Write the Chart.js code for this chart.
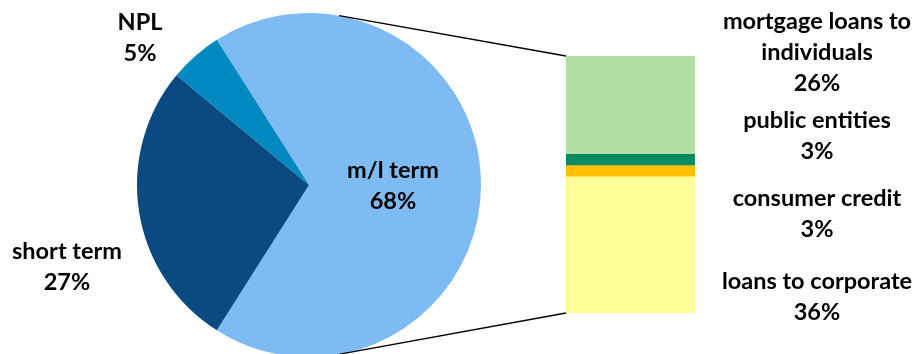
<!DOCTYPE html>
<html>
<head>
<meta charset="utf-8">
<script src="https://cdn.jsdelivr.net/npm/chart.js@4.4.0/dist/chart.umd.min.js"></script>
<style>
html, body { margin: 0; padding: 0; background: #fff; }
#wrap { position: relative; width: 916px; height: 354px; overflow: hidden; }
#wrap canvas { position: absolute; left: 0; top: 0; }
</style>
</head>
<body>
<div id="wrap">
  <canvas id="pieChart" width="916" height="357"></canvas>
  <canvas id="barChart" width="916" height="357"></canvas>
</div>
<script>
// Pie: loan breakdown by term
const pieLabels = ['m/l term', 'short term', 'NPL'];
const pieValues = [68, 27, 5];
const pieColors = ['#7DBBF2', '#0B4A80', '#0088C0'];

// Bar: split of the m/l term slice (bottom to top)
const barLabels = ['loans to corporate', 'consumer credit', 'public entities', 'mortgage loans to\nindividuals'];
const barValues = [36, 3, 3, 26];
const barColors = ['#FFFF99', '#FFC000', '#0A8A64', '#B3DFA3'];

// label anchor points (centre of first text line)
const pieLabelPos = [[393, 170], [67, 251], [140, 22]];
const barLabelPos = [[817, 281], [817, 198], [817, 120], [817, 21]];

const FONT = 'bold 23.5px Lato, "Open Sans", sans-serif';
const LINE = 31;

function drawLabel(ctx, text, value, x, y) {
    const lines = text.split('\n').concat([value + '%']);
    ctx.save();
    ctx.font = FONT;
    ctx.fillStyle = '#000';
    ctx.textAlign = 'center';
    ctx.textBaseline = 'middle';
    lines.forEach((l, i) => ctx.fillText(l, x, y + i * LINE));
    ctx.restore();
}

const pieLabelPlugin = {
    id: 'pieLabelPlugin',
    afterDraw(chart) {
        pieLabels.forEach((lbl, i) => {
            drawLabel(chart.ctx, lbl, pieValues[i], pieLabelPos[i][0], pieLabelPos[i][1]);
        });
    }
};

const pieChart = new Chart(document.getElementById('pieChart').getContext('2d'), {
    type: 'pie',
    data: {
        labels: pieLabels,
        datasets: [{
            data: pieValues,
            backgroundColor: pieColors,
            borderWidth: 0
        }]
    },
    options: {
        responsive: false,
        animation: false,
        rotation: -32.4,
        layout: { padding: { left: 137, right: 435, top: 13, bottom: 0 } },
        plugins: { legend: { display: false }, tooltip: { enabled: false } }
    },
    plugins: [pieLabelPlugin]
});

const barTotal = barValues.reduce((a, b) => a + b, 0);

const connectorPlugin = {
    id: 'connectorPlugin',
    afterDraw(chart) {
        const ctx = chart.ctx;
        const arc = pieChart.getDatasetMeta(0).data[0];
        const cx = arc.x, cy = arc.y, r = arc.outerRadius;
        const bar = chart.getDatasetMeta(0).data[0];
        const left = bar.x - bar.width / 2;
        const top = chart.scales.y.getPixelForValue(barTotal);
        const bottom = chart.scales.y.getPixelForValue(0);

        ctx.save();
        ctx.strokeStyle = '#000';
        ctx.lineWidth = 1.3;
        [[top, -1], [bottom, 1]].forEach(([py, sign]) => {
            const dx = left - cx, dy = py - cy;
            const d = Math.sqrt(dx * dx + dy * dy);
            const a = Math.atan2(dy, dx) + sign * Math.acos(r / d);
            ctx.beginPath();
            ctx.moveTo(cx + r * Math.cos(a), cy + r * Math.sin(a));
            ctx.lineTo(left, py);
            ctx.stroke();
        });
        ctx.restore();

        barLabels.forEach((lbl, i) => {
            drawLabel(ctx, lbl, barValues[i], barLabelPos[i][0], barLabelPos[i][1]);
        });
    }
};

new Chart(document.getElementById('barChart').getContext('2d'), {
    type: 'bar',
    data: {
        labels: ['m/l term'],
        datasets: barLabels.map((lbl, i) => ({
            label: lbl,
            data: [barValues[i]],
            backgroundColor: barColors[i],
            borderWidth: 0,
            barPercentage: 1,
            categoryPercentage: 1
        }))
    },
    options: {
        responsive: false,
        animation: false,
        layout: { padding: { left: 566, right: 221, top: 56, bottom: 44 } },
        scales: {
            x: { display: false, stacked: true },
            y: { display: false, stacked: true, min: 0, max: barTotal }
        },
        plugins: { legend: { display: false }, tooltip: { enabled: false } }
    },
    plugins: [connectorPlugin]
});
</script>
</body>
</html>
